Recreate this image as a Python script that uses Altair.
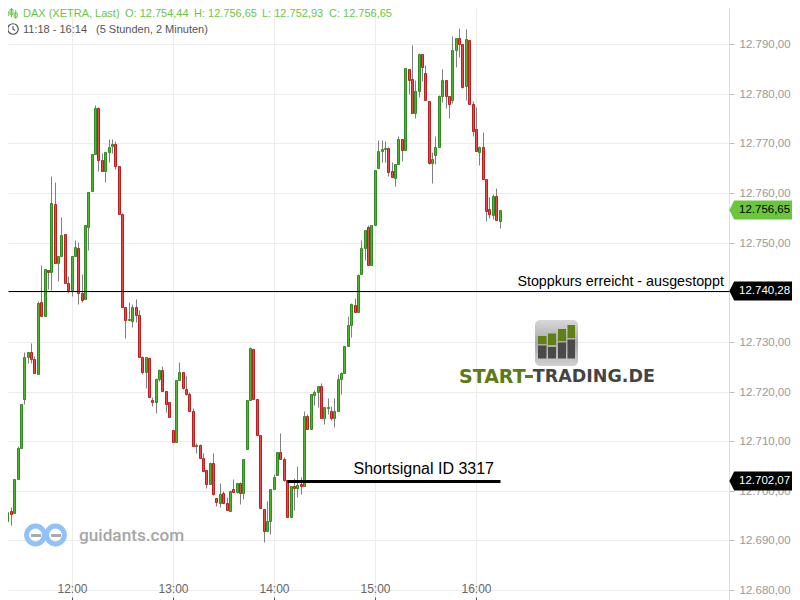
import altair as alt
import pandas as pd

BASE = 12700
OPEN = [5.0,2.2,-6.1,-4.1,-4.5,2.4,8.6,18.4,26.9,28.0,
26.5,23.5,38.0,35.3,44.5,44.0,57.7,45.8,47.4,51.7,
41.8,40.5,47.4,48.9,39.8,38.6,53.2,60.3,67.8,77.1,
66.6,64.5,68.2,69.4,69.8,65.4,55.7,37.0,34.5,34.3,
37.0,35.4,26.9,23.9,26.7,18.2,17.9,22.5,24.3,20.1,
17.8,12.2,9.9,22.3,23.9,20.6,19.4,16.0,9.1,9.2,
6.7,4.1,1.4,5.5,-1.5,-2.4,-0.5,-2.5,-4.0,0.3,
-0.2,1.5,-0.4,8.5,18.2,28.5,18.4,11.2,-3.7,-8.0,
-6.1,0.3,3.2,7.9,6.5,2.2,-5.3,1.0,0.6,1.3,
1.0,15.0,12.5,19.3,20.0,21.2,14.6,16.7,16.0,14.6,
16.0,22.6,23.7,29.1,33.3,37.4,36.0,43.6,48.9,53.1,
45.4,53.5,65.0,68.4,68.8,69.0,64.4,63.0,65.8,70.8,
68.6,84.9,82.9,76.1,80.5,87.9,84.1,78.5,66.1,67.6,
69.2,79.5,82.7,79.5,78.7,88.7,91.2,90.1,81.5,90.8,
77.9,72.8,68.2,69.2,62.8,56.7,55.5,59.3,54.44]
CLOSE = [2.0,-6.1,-4.3,-4.6,2.4,8.6,17.4,26.9,28.0,26.5,
23.7,37.8,35.3,44.6,44.1,57.9,45.8,47.4,51.5,41.8,
40.5,47.4,49.1,39.8,38.5,53.5,60.1,67.9,77.1,66.6,
64.5,68.2,69.2,69.8,65.4,55.7,37.0,34.5,34.7,37.0,
35.4,26.9,24.0,26.9,18.8,17.9,22.5,24.3,20.1,17.4,
14.8,9.9,22.3,23.9,20.8,19.4,16.0,9.1,9.2,6.7,
4.0,1.4,5.5,-0.6,-2.2,-0.7,-2.4,-3.8,-0.1,-0.2,
1.5,-0.5,6.5,18.2,28.7,18.4,11.3,-3.4,-8.0,-6.1,
0.3,2.7,7.9,6.5,2.2,-5.3,0.9,0.6,1.2,1.0,
15.0,12.5,19.4,20.0,21.2,14.6,16.8,16.9,14.6,16.0,
22.6,23.7,29.1,33.3,37.6,36.0,43.5,48.9,52.5,45.4,
53.5,64.6,68.4,68.8,69.0,64.2,63.2,65.8,70.8,68.6,
85.1,82.7,76.1,80.5,87.9,85.3,78.7,66.1,66.8,69.2,
79.5,82.7,79.5,77.9,88.7,91.2,90.1,81.4,91.0,77.9,
72.5,68.4,69.2,62.8,56.3,55.8,59.3,54.5,56.65]
HIGH = [8.6,2.2,-4.3,-3.3,2.4,9.0,17.4,27.9,28.0,29.8,
27.1,38.2,45.5,44.6,44.5,63.4,62.2,47.4,55.1,51.7,
43.2,47.4,50.5,50.1,43.7,53.5,60.1,67.9,77.7,77.4,
68.0,68.2,70.8,70.8,70.4,65.4,56.0,37.0,38.0,37.6,
38.6,36.4,27.1,26.9,27.0,18.8,22.7,24.5,25.1,20.1,
17.8,12.2,22.3,25.9,23.9,23.1,19.9,16.6,9.6,9.4,
7.7,4.1,5.9,7.7,-1.5,1.5,0.0,-1.3,0.2,2.4,
1.5,1.7,6.5,18.2,28.9,28.5,18.4,11.2,-3.7,-2.1,
0.3,3.4,7.9,11.6,6.8,2.2,0.9,2.5,5.0,2.8,
16.1,15.5,19.4,20.4,21.2,21.8,16.8,18.6,17.1,18.6,
23.5,23.9,29.1,35.2,37.8,38.9,43.7,50.5,52.5,53.5,
53.5,64.6,70.7,70.7,70.4,69.2,66.2,65.8,71.5,70.8,
85.1,84.9,89.8,82.8,88.2,87.9,85.7,78.5,68.2,71.5,
79.7,84.9,82.7,79.5,91.6,91.2,93.2,90.1,93.0,90.8,
78.5,77.3,69.4,72.3,62.8,59.2,59.8,61.0,56.65]
LOW = [1.6,-6.1,-11.7,-6.9,-4.5,2.4,8.6,17.5,25.8,25.8,
23.7,23.5,35.3,35.3,40.7,40.4,45.8,42.3,47.4,41.8,
39.9,39.3,47.4,37.7,38.1,38.6,48.5,60.3,67.8,64.4,
64.5,62.3,66.3,68.0,64.9,55.7,37.0,30.8,34.5,32.9,
34.1,26.9,23.6,20.8,18.8,17.1,15.7,22.2,20.1,15.9,
14.8,9.9,9.9,22.3,20.5,19.2,16.0,9.1,7.7,6.7,
4.0,0.6,1.4,-0.8,-3.1,-3.2,-2.4,-3.8,-4.0,-0.2,
-0.4,-2.6,-1.6,8.5,18.2,18.4,11.3,-3.4,-10.3,-8.0,
-8.8,0.3,3.2,6.5,2.0,-5.3,-5.3,-3.9,-1.2,-0.6,
1.0,12.5,12.5,17.3,16.9,14.6,13.5,15.5,14.2,12.9,
16.0,19.5,23.7,29.1,31.0,36.0,36.0,43.6,46.5,45.4,
45.4,53.5,65.0,66.2,66.2,63.5,63.2,61.5,65.8,66.5,
68.6,79.9,76.1,75.2,79.4,82.6,78.7,65.8,62.1,65.8,
69.2,78.4,77.2,75.0,78.2,85.3,87.4,81.1,78.7,77.9,
71.5,68.4,65.7,62.8,54.4,55.0,54.8,54.5,52.93]

FIRST_MINUTE = 11 * 60 + 18
STEP_MINUTES = 2
X_TICKS = [720, 780, 840, 900, 960]
Y_TICKS = [12680, 12690, 12700, 12710, 12720, 12730, 12740, 12750, 12760, 12770, 12780, 12790]
LAST = 12756.65
STOP = 12740.28
SIGNAL = 12702.07
SIGNAL_START = 848
SIGNAL_END = 974
HEADER = "DAX (XETRA, Last)"
OHLC = ["O: 12.754,44", "H: 12.756,65", "L: 12.752,93", "C: 12.756,65"]

n = len(OPEN)
assert n == len(CLOSE) == len(HIGH) == len(LOW) == 149
df = pd.DataFrame({
    "minute": [FIRST_MINUTE + STEP_MINUTES * i for i in range(n)],
    "open": [BASE + v for v in OPEN],
    "close": [BASE + v for v in CLOSE],
    "high": [BASE + v for v in HIGH],
    "low": [BASE + v for v in LOW],
})
df["dir"] = ["up" if c >= o else "down" for o, c in zip(df["open"], df["close"])]

W, H = 721, 592
xs = alt.Scale(domain=[682.31, 1110.2], nice=False, zero=False, round=True, padding=0)
ys = alt.Scale(domain=[12678.0, 12797.26], nice=False, zero=False, round=True, padding=0)
FONT = "Liberation Sans"
ONE = alt.Data(values=[{"a": 1}])
CRISP = dict(xOffset=0.5, x2Offset=0.5, yOffset=0.5, y2Offset=0.5)


def px(v):
    return alt.value(v - 8)


def txt(s, x, y, size=11, color="#000", align="left", font=FONT, weight="normal"):
    return alt.Chart(alt.Data(values=[{"t": s}])).mark_text(
        align=align, baseline="middle", fontSize=size, color=color, font=font, fontWeight=weight
    ).encode(x=px(x), y=px(y), text="t:N")


def box(x0, x1, y0, y1, color, **kw):
    return alt.Chart(ONE).mark_rect(color=color, **kw).encode(x=px(x0), x2=px(x1), y=px(y0), y2=px(y1))


def glyph(path, x, y, size, **kw):
    return alt.Chart(ONE).mark_point(shape=path, size=size, **kw).encode(x=px(x), y=px(y))


x_axis = alt.Axis(orient="top", offset=-H, values=X_TICKS, tickSize=3, tickColor="#555", labelPadding=2,
                  labelFontSize=12, labelColor="#666", labelFont=FONT, domain=False, title=None,
                  gridColor="#ececec", grid=True,
                  labelExpr="floor(datum.value/60)+':00'")
y_axis = alt.Axis(orient="right", values=Y_TICKS, tickSize=5, tickColor="#bbb", labelPadding=5,
                  labelFontSize=11.5, labelColor="#999", labelFont=FONT, domain=True, domainColor="#ddd",
                  title=None, gridColor="#ececec", grid=True,
                  labelExpr="datum.value==12740 ? '' : replace(format(datum.value,',.0f'),',','.')+',00'")

base = alt.Chart(df)
wicks = base.mark_rule(color="#808080", strokeWidth=1, clip=True, **CRISP).encode(
    x=alt.X("minute:Q", scale=xs, axis=x_axis),
    y=alt.Y("low:Q", scale=ys, axis=y_axis),
    y2="high:Q",
)
bodies = base.mark_bar(size=2, strokeWidth=1, clip=True, **CRISP).encode(
    x=alt.X("minute:Q", scale=xs),
    y=alt.Y("open:Q", scale=ys),
    y2="close:Q",
    fill=alt.Fill("dir:N", scale=alt.Scale(domain=["up", "down"], range=["#4fb52f", "#e84a4a"]), legend=None),
    stroke=alt.Stroke("dir:N", scale=alt.Scale(domain=["up", "down"], range=["#2f8b22", "#b9201f"]), legend=None),
)

stop_line = alt.Chart(alt.Data(values=[{"p": STOP}])).mark_rule(color="#000", strokeWidth=1, **CRISP).encode(
    x=alt.value(0), x2=alt.value(W), y=alt.Y("p:Q", scale=ys))
signal_line = alt.Chart(alt.Data(values=[{"p": SIGNAL, "a": SIGNAL_START, "b": SIGNAL_END}])).mark_rule(
    color="#000", strokeWidth=3, **CRISP).encode(
    x=alt.X("a:Q", scale=xs), x2="b:Q", y=alt.Y("p:Q", scale=ys))

TAG = "M-3.3,0 L-2.8,-1 L3.3,-1 L3.3,1 L-2.8,1 Z"


def tag(price, fill, color):
    d = alt.Data(values=[{"p": price, "t": f"{price:,.2f}".replace(",", "X").replace(".", ",").replace("X", ".")}])
    a = alt.Chart(d).mark_point(shape=TAG, size=361, filled=True, fill=fill, opacity=1).encode(
        x=px(760.7), y=alt.Y("p:Q", scale=ys))
    b = alt.Chart(d).mark_text(align="left", baseline="middle", fontSize=11.5, font=FONT, color=color).encode(
        x=px(739), y=alt.Y("p:Q", scale=ys), text="t:N")
    return a + b


GREEN_T = "#6cc644"
header = [
    txt(HEADER, 23, 14, 11, GREEN_T),
    txt(OHLC[0], 125, 14, 11, GREEN_T),
    txt(OHLC[1], 194, 14, 11, GREEN_T),
    txt(OHLC[2], 262, 14, 11, GREEN_T),
    txt(OHLC[3], 329, 14, 11, GREEN_T),
    txt("11:18 - 16:14", 23, 30, 11, "#555"),
    txt("(5 Stunden, 2 Minuten)", 96, 30, 11, "#555"),
    glyph("M-0.7,-0.6 L-0.7,0.9 M0,-1 L0,0.7 M0.7,-0.5 L0.7,1 M-0.95,-0.2 L-0.45,-0.2 L-0.45,0.4 L-0.95,0.4 Z M-0.25,-0.6 L0.25,-0.6 L0.25,0.2 L-0.25,0.2 Z M0.45,0 L0.95,0 L0.95,0.7 L0.45,0.7 Z",
          11.5, 13, 144, stroke=GREEN_T, strokeWidth=1, filled=False, opacity=1),
    alt.Chart(ONE).mark_point(shape="circle", size=110, stroke="#555", strokeWidth=1.2, filled=False, opacity=1).encode(x=px(13), y=px(29)),
    glyph("M0,-0.7 L0,0 L0.5,0.4", 13, 29, 64, stroke="#555", strokeWidth=1.2, filled=False, opacity=1),
]

labels = [
    txt("Stoppkurs erreicht - ausgestoppt", 724, 282, 14.3, "#000", "right"),
    txt("Shortsignal ID 3317", 494, 469, 16, "#000", "right"),
]

ring = dict(shape="circle", size=317, stroke="#90c2f7", strokeWidth=5, filled=False, opacity=1)
guidants = [
    alt.Chart(ONE).mark_point(**ring).encode(x=px(35.5), y=px(535)),
    alt.Chart(ONE).mark_point(**ring).encode(x=px(55.5), y=px(535)),
    box(31, 41, 534, 537, "#aaaaaa"),
    box(51, 61, 534, 537, "#aaaaaa"),
    txt("guidants.com", 79, 536, 17.2, "#a6a6a6", font="Roboto", weight=500),
]

grad = alt.LinearGradient(gradient="linear", x1=0, x2=0, y1=0, y2=1,
                          stops=[alt.GradientStop(offset=0, color="#d8d8d8"), alt.GradientStop(offset=0.5, color="#a8a8a8"), alt.GradientStop(offset=1, color="#d0d0d0")])
logo = [
    alt.Chart(ONE).mark_rect(color=grad, cornerRadius=5).encode(x=px(535), x2=px(578), y=px(320), y2=px(366)),
    box(538, 546.5, 336, 344, "#5f8012"), box(548, 556, 333.5, 345, "#5f8012"),
    box(558, 566, 329, 341, "#5f8012"), box(567.5, 575, 325, 338, "#5f8012"),
    box(538, 546.5, 345.5, 358.5, "#4a4a4a"), box(548, 556, 347, 358.5, "#4a4a4a"),
    box(558, 566, 342.5, 358.5, "#4a4a4a"), box(567.5, 575, 339.5, 358.5, "#4a4a4a"),
    txt("START", 459, 377, 19, "#5d7b12", font="DejaVu Sans", weight="bold"),
    box(525, 533, 375, 378, "#5d7b12"),
    txt("TRADING.DE", 655, 377, 17.5, "#444444", "right", font="DejaVu Sans", weight="bold"),
]

layers = [wicks, bodies, stop_line, signal_line] + labels + guidants + logo + header + [
    tag(LAST, "#6cc63c", "#000"), tag(STOP, "#000", "#fff"), tag(SIGNAL, "#000", "#fff")]

chart = alt.layer(*layers).resolve_scale(fill="independent", stroke="independent").properties(
    width=W, height=H,
    padding={"left": 0, "top": 0, "right": 63, "bottom": 0},
    autosize=alt.AutoSizeParams(type="none"),
).configure_view(stroke=None)

chart.save("out.html", embed_options={"renderer": "svg", "actions": False})
